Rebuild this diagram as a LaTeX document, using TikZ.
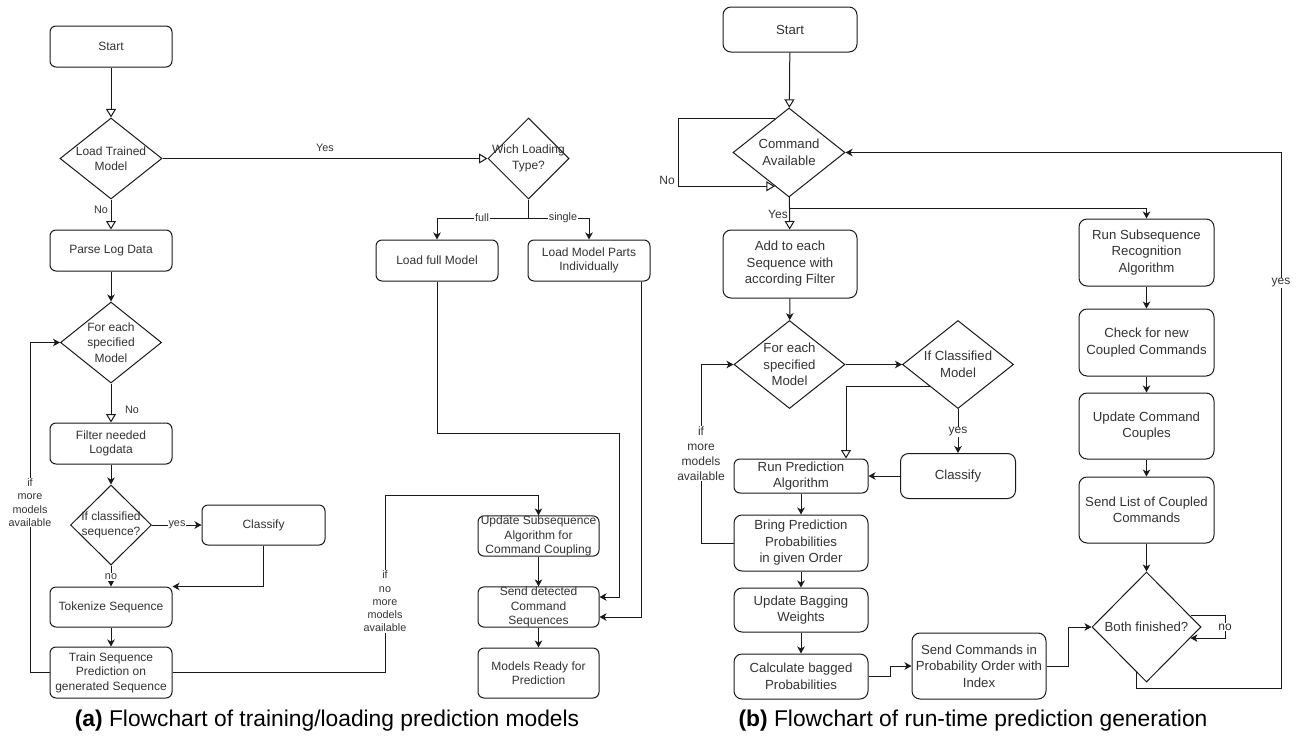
\documentclass[tikz,border=0pt]{standalone}
\usepackage{fontspec}
\setmainfont{Liberation Sans}
\usetikzlibrary{arrows.meta,shapes.geometric,calc}
\definecolor{ink}{HTML}{1A1A1A}
\definecolor{txt}{HTML}{333333}

\tikzset{
  lnk/.style={draw=ink, line width=1pt},
  farr/.style={lnk, -{Stealth[length=7pt,width=7.5pt,inset=2pt]}},
  oarr/.style={lnk, -{Triangle[open,length=8.5pt,width=10pt,fill=white]}},
  sz/.style 2 args={minimum width=#1pt, minimum height=#2pt},
  boxA/.style={draw=ink, line width=1pt, fill=white, rounded corners=6pt,
    inner sep=0pt, align=center, text=txt, font=\fontsize{12}{14.5}\selectfont},
  boxB/.style={boxA, rounded corners=8pt, font=\fontsize{13.2}{16.5}\selectfont},
  dia/.style={diamond, draw=ink, line width=1pt, fill=white, inner sep=0pt},
  dtxA/.style={align=center, text=txt, inner sep=0pt, font=\fontsize{12}{15.5}\selectfont},
  dtxB/.style={dtxA, font=\fontsize{13.2}{16.5}\selectfont},
  lblA/.style={text=txt, align=center, inner sep=1pt, font=\fontsize{10.8}{13.3}\selectfont},
  lblB/.style={lblA, font=\fontsize{12}{15}\selectfont},
  onln/.style={fill=white},
  capt/.style={font=\fontsize{22.8}{27}\selectfont, text=black, inner sep=0pt},
}

\begin{document}
\begin{tikzpicture}[x=1pt,y=-1pt]
\useasboundingbox[fill=white] (0,0) rectangle (1298,742);

% ---------------- (a) training / loading ----------------
\node[boxA, sz={122}{41}] (s1)  at (111,46.5)  {Start};
\node[dia, sz={102}{81}, label={[dtxA]center:{Load Trained\\Model}}] (ltm) at (111,158.5) {};
\node[boxA, sz={122}{41}] (pld) at (111,250.5) {Parse Log Data};
\node[dia, sz={101}{81}, label={[dtxA]center:{For each\\specified\\Model}}] (fes) at (111,342.5) {};
\node[boxA, sz={122}{41}] (fnl) at (111,443.5) {Filter needed\\Logdata};
\node[dia, sz={81}{80}, label={[dtxA]center:{If classified\\sequence?}}] (ics) at (111,525) {};
\node[boxA, sz={123}{40}] (cls1) at (263.5,525) {Classify};
\node[boxA, sz={122}{40}] (tok) at (111,607) {Tokenize Sequence};
\node[boxA, sz={122}{51}] (trn) at (111,672.5) {Train Sequence\\Prediction on\\generated Sequence};

\node[dia, sz={81}{81}, label={[dtxA]center:{Wich Loading\\Type?}}] (wlt) at (528.5,158.5) {};
\node[boxA, sz={122}{41}] (lfm) at (437,260.5) {Load full Model};
\node[boxA, sz={122}{41}] (lmp) at (589,260.5) {Load Model Parts\\Individually};
\node[boxA, sz={121}{40}] (upd) at (538.5,536) {Update Subsequence\\Algorithm for\\Command Coupling};
\node[boxA, sz={121}{40}] (snd) at (538.5,607) {Send detected\\Command\\Sequences};
\node[boxA, sz={121}{50}] (mrp) at (538.5,673) {Models Ready for\\Prediction};

\coordinate (split) at (528.5,218);
\coordinate (loopA) at (30,672.5);
\coordinate (exitA) at (385,495);
\coordinate (fullR) at (619,433);

\draw[oarr] (s1) -- (ltm);
\draw[oarr] (ltm) -- (pld);
\draw[farr] (pld) -- (fes);
\draw[oarr] (fes) -- (fnl);
\draw[farr] (fnl) -- (ics);
\draw[farr] (ics) -- (cls1);
\draw[farr] (ics) -- (tok);
\draw[farr] (cls1.south) |- (tok.north east);
\draw[farr] (tok) -- (trn);
\draw[farr] (trn.west) -- (loopA) |- (fes.west);
\draw[farr] (trn.east) -| (exitA) -| (upd.north);
\draw[oarr] (ltm) -- (wlt);
\draw[lnk] (wlt.south) -- (split);
\draw[farr] (split) -| (lfm.north);
\draw[farr] (split) -| (lmp.north);
\draw[farr] (lfm.south) |- (fullR) |- ([yshift=10pt]snd.east);
\draw[farr] ([xshift=-9pt]lmp.south east) |- ([yshift=-10pt]snd.east);
\draw[farr] (upd) -- (snd);
\draw[farr] (snd) -- (mrp);

\node[lblA] (lNoA) at (101,210) {No};
\node[lblA] (lNoB) at (132,410) {No};
\node[lblA, onln] (lYesC) at (177,525) {yes};
\node[lblA, onln] (lNoC) at (111,577) {no};
\node[lblA, onln] (lMoreA) at (30,502.5) {if\\more\\models\\available};
\node[lblA, onln] (lDoneA) at (385,601.5) {if\\no\\more\\models\\available};
\node[lblA] (lYesL) at (325,148) {Yes};
\node[lblA, onln] (lFull) at (482,218) {full};
\node[lblA, onln] (lSingle) at (563,218) {single};

% ---------------- (b) run-time prediction ----------------
\node[boxB, sz={134}{45}] (s2) at (790,29.5) {Start};
\node[dia, sz={112}{89}, label={[dtxB]center:{Command\\Available}}] (ca) at (789,152.5) {};
\node[boxB, sz={134}{68}] (ats) at (790,264) {Add to each\\Sequence with\\according Filter};
\node[dia, sz={111}{88}, label={[dtxB]center:{For each\\specified\\Model}}] (fes2) at (789.5,364.5) {};
\node[dia, sz={111}{88}, label={[dtxB]center:{If Classified\\Model}}] (icm) at (958,364.5) {};
\node[boxB, sz={115}{45}] (cls2) at (958,476) {Classify};
\node[boxB, sz={134}{34}, rounded corners=6pt] (rpa) at (801,476) {Run Prediction\\Algorithm};
\node[boxB, sz={134}{56}] (bpp) at (801,543) {Bring Prediction\\Probabilities\\in given Order};
\node[boxB, sz={134}{44}] (ubw) at (801,610) {Update Bagging\\Weights};
\node[boxB, sz={134}{45}] (cbp) at (801,676.5) {Calculate bagged\\Probabilities};
\node[boxB, sz={134}{66}] (scp) at (979,666) {Send Commands in\\Probability Order with\\Index};
\node[boxB, sz={135}{67}] (rsr) at (1146.5,252.5) {Run Subsequence\\Recognition\\Algorithm};
\node[boxB, sz={135}{67}] (chk) at (1146.5,342.5) {Check for new\\Coupled Commands};
\node[boxB, sz={135}{66}] (ucc) at (1146.5,426) {Update Command\\Couples};
\node[boxB, sz={135}{66}] (slc) at (1146.5,510) {Send List of Coupled\\Commands};
\node[dia, sz={109}{110}, label={[dtxB]center:{Both finished?}}] (bf) at (1146.5,627) {};

\coordinate (noOut) at ($(ca.north)!0.25!(ca.west)$);
\coordinate (noIn)  at ($(ca.south)!0.25!(ca.west)$);
\coordinate (noL)   at (678,0);
\coordinate (clsOut) at ($(icm.west)!0.5!(icm.south)$);
\coordinate (loopB) at (701,543);
\coordinate (bfNoOut) at ($(bf.east)!0.2!(bf.north)$);
\coordinate (bfNoIn)  at ($(bf.east)!0.2!(bf.south)$);
\coordinate (bfNoR)   at (1225,0);
\coordinate (bfYes)   at ($(bf.south)!0.19!(bf.west)$);
\coordinate (yesBR)   at (1281,688);

\draw[oarr] (s2) -- (ca);
\draw[oarr] (noOut) -- (noOut -| noL) |- (noIn);
\draw[oarr] (ca) -- (ats);
\draw[farr] ([yshift=-11pt]ca.south) -| (rsr.north);
\draw[farr] (ats) -- (fes2);
\draw[farr] (fes2) -- (icm);
\draw[oarr] (clsOut) -| ([xshift=45pt]rpa.north);
\draw[farr] (icm) -- (cls2);
\draw[farr] (cls2) -- (rpa);
\draw[farr] (rpa) -- (bpp);
\draw[farr] (bpp.west) -- (loopB) |- (fes2.west);
\draw[farr] (bpp) -- (ubw);
\draw[farr] (ubw) -- (cbp);
\draw[farr] (cbp.east) -- ++(22,0) |- (scp.west);
\draw[farr] (scp.east) -- ++(22,0) |- (bf.west);
\draw[farr] (rsr) -- (chk);
\draw[farr] (chk) -- (ucc);
\draw[farr] (ucc) -- (slc);
\draw[farr] (slc) -- (bf);
\draw[farr] (bfNoOut) -- (bfNoOut -| bfNoR) |- (bfNoIn);
\draw[farr] (bfYes) |- (yesBR) |- (ca.east);

\node[lblB] (lNoD) at (667,180) {No};
\node[lblB] (lYesD) at (778,214) {Yes};
\node[lblB, onln] (lYesE) at (958,432) {yes};
\node[lblB, onln] (lMoreB) at (701,453.5) {if\\more\\models\\available};
\node[lblB, onln] (lNoF) at (1225,627) {no};
\node[lblB, onln] (lYesF) at (1281,283) {yes};

% ---------------- captions ----------------
\node[capt] (capA) at (327,721) {\textbf{(a)} Flowchart of training/loading prediction models};
\node[capt] (capB) at (973,721) {\textbf{(b)} Flowchart of run-time prediction generation};
\end{tikzpicture}
\end{document}
